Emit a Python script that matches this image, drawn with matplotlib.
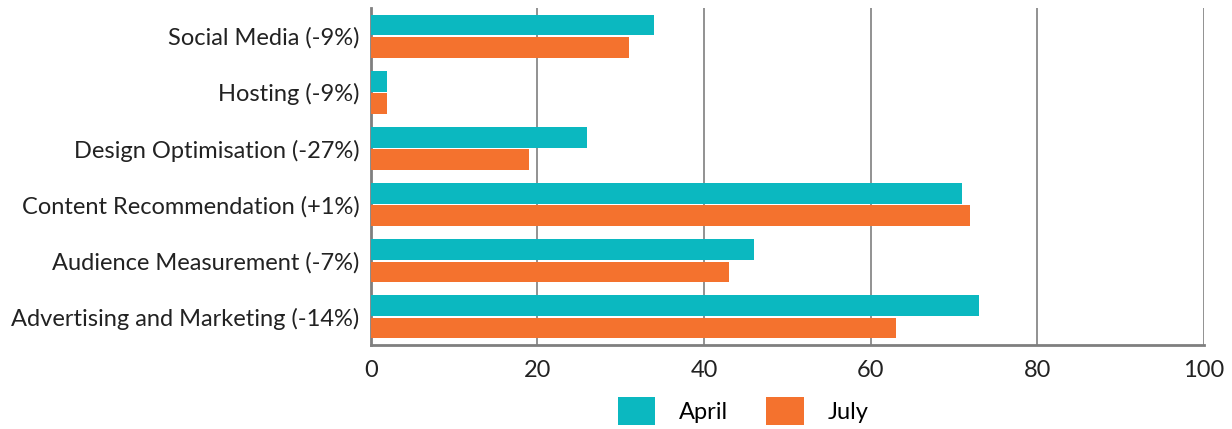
import matplotlib
matplotlib.use('Agg')
import matplotlib.pyplot as plt
import numpy as np

plt.rcParams['font.family'] = ['Lato', 'DejaVu Sans']

categories = ['Social Media (-9%)', 'Hosting (-9%)', 'Design Optimisation (-27%)',
              'Content Recommendation (+1%)', 'Audience Measurement (-7%)',
              'Advertising and Marketing (-14%)']
april = [34, 2, 26, 71, 46, 73]
july = [31, 2, 19, 72, 43, 63]
ticks = [0, 20, 40, 60, 80, 100]

teal = '#0bb8c0'
orange = '#f4722e'
grey = '#7f7f7f'

fig = plt.figure(figsize=(12.32, 4.29), dpi=100)
ax = fig.add_axes([0.301, 0.196, 0.676, 0.785])

y = np.arange(len(categories))
h = 0.37
ax.barh(y - h / 2 - 0.015, april, height=h, color=teal, label='April', zorder=3)
ax.barh(y + h / 2 + 0.015, july, height=h, color=orange, label='July', zorder=3)

ax.set_ylim(len(categories) - 0.5, -0.5)
ax.set_xlim(0, 100)
ax.set_xticks(ticks)
ax.set_yticks(y)
ax.set_yticklabels(categories)
ax.xaxis.grid(True, color=grey, linewidth=1.2, zorder=0)
ax.tick_params(axis='both', length=0, labelsize=17, colors='#222222')
ax.tick_params(axis='x', pad=11)
ax.tick_params(axis='y', pad=8)

for s in ['top', 'right']:
    ax.spines[s].set_visible(False)
ax.spines['left'].set_color(grey)
ax.spines['left'].set_linewidth(2)
ax.spines['bottom'].set_color(grey)
ax.spines['bottom'].set_linewidth(2)

fig.legend(*ax.get_legend_handles_labels(), loc='center', bbox_to_anchor=(0.603, 0.042),
           ncol=2, frameon=False, fontsize=17, handlelength=1.6, handleheight=1.45,
           columnspacing=1.6, handletextpad=1.0, borderpad=0, borderaxespad=0)

fig.savefig('out.png', dpi=100)
